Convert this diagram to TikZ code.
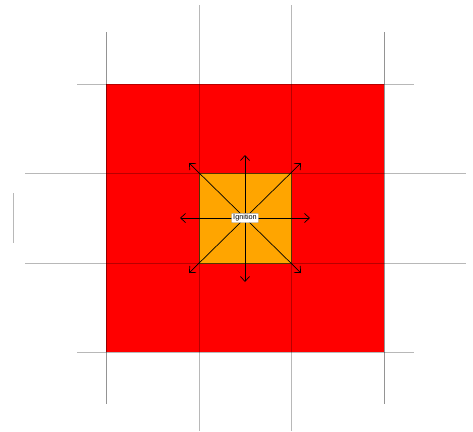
\documentclass[tikz,border=0pt]{standalone}
\usepackage{fontspec}
\setsansfont{Liberation Sans}
\usetikzlibrary{arrows.meta}
\definecolor{fireorange}{HTML}{FFA500}
\definecolor{firered}{HTML}{FF0000}
\begin{document}
\begin{tikzpicture}[x=1pt,y=-1pt,
  gridline/.style={draw=black,opacity=0.28,line width=0.8pt},
  outerline/.style={draw=black,opacity=0.42,line width=0.8pt},
  ray/.style={-{Straight Barb[length=5pt,width=9pt]},draw=black,line width=0.7pt},
  lbl/.style={draw=gray!70,fill=white,inner xsep=1.5pt,inner ysep=1.3pt,font=\sffamily\fontsize{7.3}{8.5}\selectfont,rounded corners=0.5pt}]
\useasboundingbox (0,0) rectangle (473,431);
% red region
\fill[firered] (106,84) rectangle (384,352);
% orange square
\draw[fill=fireorange,draw=black!55!fireorange,line width=0.6pt] (199,173) rectangle (291,263);
% grid lines
\draw[gridline] (199,5) -- (199,431);
\draw[gridline] (291,5) -- (291,431);
\draw[outerline] (106,32) -- (106,404);
\draw[outerline] (384,32) -- (384,404);
\draw[gridline] (77,84) -- (414,84);
\draw[gridline] (77,352) -- (414,352);
\draw[gridline] (25,173) -- (466,173);
\draw[gridline] (25,263) -- (466,263);
\draw[gridline] (13,193) -- (13,243);
% ignition
\coordinate (c) at (245,218);
\coordinate (n) at (245,155);
\coordinate (s) at (245,282);
\coordinate (w) at (180,218);
\coordinate (e) at (310,218);
\coordinate (nw) at (189,163);
\coordinate (ne) at (301,163);
\coordinate (sw) at (189,273);
\coordinate (se) at (301,273);
\foreach \t in {n,s,w,e,nw,ne,sw,se} \draw[ray] (c) -- (\t);
\node[lbl] (ign) at (c) {Ignition};
\end{tikzpicture}
\end{document}
